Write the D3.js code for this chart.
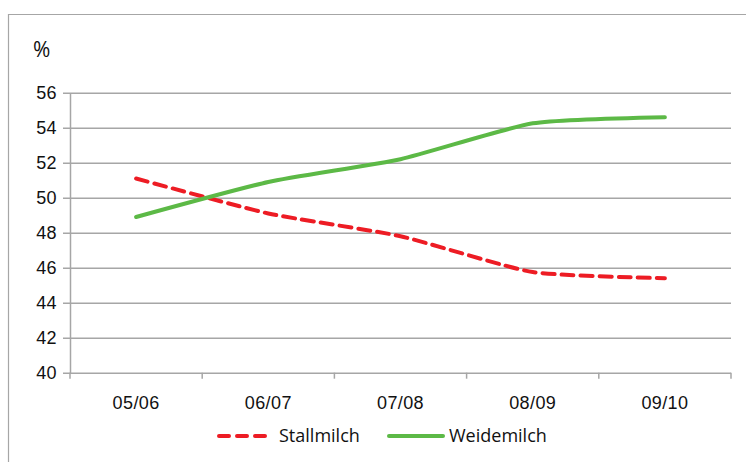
<!DOCTYPE html>
<html>
<head>
<meta charset="utf-8">
<script src="https://cdn.jsdelivr.net/npm/d3@7"></script>
<style>
  html, body { margin: 0; padding: 0; background: #fff; }
  svg { display: block; font-family: "Open Sans", "Noto Sans", sans-serif; }
</style>
</head>
<body>
<svg id="chart" width="746" height="462"></svg>
<script>
// Milk share by season (%)
const seasons = ["05/06", "06/07", "07/08", "08/09", "09/10"];
const stallmilch = [51.1, 49.1, 47.8, 45.75, 45.4];
const weidemilch = [48.9, 50.9, 52.2, 54.25, 54.6];
const yTicks = [40, 42, 44, 46, 48, 50, 52, 54, 56];
const seriesNames = ["Stallmilch", "Weidemilch"];

const svg = d3.select("#chart");
const margin = { left: 70, right: 15, top: 92.7, bottom: 89.3 };
const W = 746, H = 462;
const gridColor = "#a6a6a6";
const textColor = "#111";
const fontSize = 18;
const red = "#ed1c24";
const green = "#5cb946";

// outer frame (open at the right and bottom)
svg.append("path")
  .attr("d", `M8.5,${H} V14.5 H${W}`)
  .attr("fill", "none").attr("stroke", gridColor).attr("stroke-width", 1.2);

const x = d3.scaleBand().domain(seasons)
  .range([margin.left, W - margin.right]).paddingInner(0).paddingOuter(0);
const y = d3.scaleLinear().domain([40, 56])
  .range([H - margin.bottom, margin.top]);

// horizontal gridlines with small outside ticks
const yAxis = d3.axisLeft(y).tickValues(yTicks)
  .tickSize(-(W - margin.right - margin.left)).tickPadding(14).tickSizeOuter(0);
const gy = svg.append("g").attr("transform", `translate(${margin.left},0)`).call(yAxis);
gy.select(".domain").attr("stroke", gridColor).attr("stroke-width", 1.5);
gy.selectAll(".tick line").attr("stroke", gridColor).attr("stroke-width", 1.5)
  .attr("x1", -7);
gy.selectAll(".tick text").attr("font-size", fontSize).attr("fill", textColor)
  .attr("x", -13).attr("letter-spacing", 0.4);

// category axis with boundary ticks
const bottomY = y(40);
const gx = svg.append("g").attr("transform", `translate(0,${bottomY})`)
  .call(d3.axisBottom(x).tickSize(0).tickPadding(24));
gx.select(".domain").remove();
gx.selectAll(".tick text").attr("font-size", fontSize).attr("fill", textColor)
  .attr("letter-spacing", 0.4);
const bounds = seasons.map(s => x(s)).concat([x(seasons[seasons.length - 1]) + x.bandwidth()]);
svg.append("g").selectAll("line").data(bounds).join("line")
  .attr("x1", d => d).attr("x2", d => d)
  .attr("y1", bottomY).attr("y2", bottomY + 6)
  .attr("stroke", gridColor).attr("stroke-width", 1.5);

// unit label
svg.append("text").attr("x", 33).attr("y", 57).attr("font-size", 21)
  .attr("fill", textColor).text("%");

const cx = s => x(s) + x.bandwidth() / 2;
const line = d3.line().x((d, i) => cx(seasons[i])).y(d => y(d))
  .curve(d3.curveCardinal.tension(0.45));

svg.append("path").datum(stallmilch).attr("d", line)
  .attr("fill", "none").attr("stroke", red).attr("stroke-width", 4)
  .attr("stroke-dasharray", "12,7").attr("stroke-linecap", "round");
svg.append("path").datum(weidemilch).attr("d", line)
  .attr("fill", "none").attr("stroke", green).attr("stroke-width", 4)
  .attr("stroke-linecap", "round");

// legend
const legendY = 436;
const leg = svg.append("g");
leg.append("line").attr("x1", 219).attr("x2", 267).attr("y1", legendY).attr("y2", legendY)
  .attr("stroke", red).attr("stroke-width", 4).attr("stroke-dasharray", "10,8")
  .attr("stroke-linecap", "round");
leg.append("text").attr("x", 279).attr("y", legendY + 6).attr("font-size", fontSize)
  .attr("fill", textColor).text(seriesNames[0]);
leg.append("line").attr("x1", 389).attr("x2", 443).attr("y1", legendY).attr("y2", legendY)
  .attr("stroke", green).attr("stroke-width", 4).attr("stroke-linecap", "round");
leg.append("text").attr("x", 449).attr("y", legendY + 6).attr("font-size", fontSize)
  .attr("fill", textColor).text(seriesNames[1]);
</script>
</body>
</html>
